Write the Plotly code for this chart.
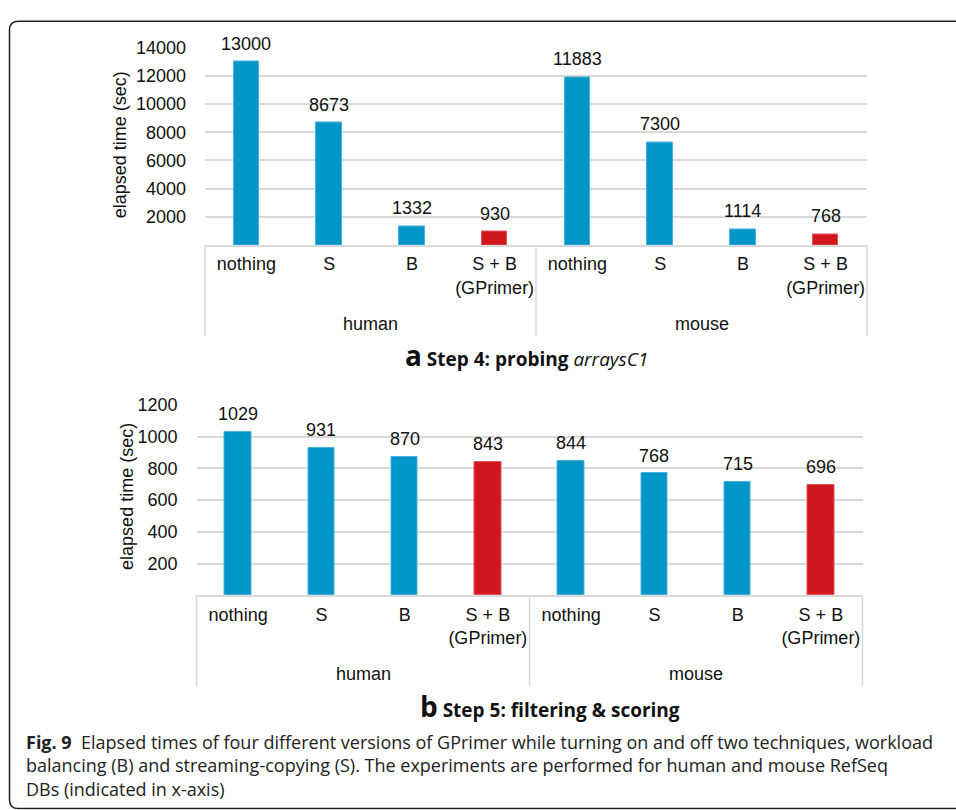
import plotly.graph_objects as go

W, H = 956, 810

# ---- data -------------------------------------------------------------
versions = ["nothing", "S", "B", "S + B<br>(GPrimer)"]
species = ["human", "mouse"]
step4_times = [13000, 8673, 1332, 930, 11883, 7300, 1114, 768]
step5_times = [1029, 931, 870, 843, 844, 768, 715, 696]
step4_ticks = [2000, 4000, 6000, 8000, 10000, 12000, 14000]
step5_ticks = [200, 400, 600, 800, 1000, 1200]

# ---- style ------------------------------------------------------------
BLUE = "#0096C8"
RED = "#D2161E"
version_colors = [BLUE, BLUE, BLUE, RED]
version_edges = ["#45B2DC", "#45B2DC", "#45B2DC", "#E0545A"]
GRID = "#D9D9D9"
CHART_FONT = "Liberation Sans, Arial, sans-serif"
TEXT_FONT = "Open Sans, Noto Sans, sans-serif"


def px(x):
    return x / W


def py(y):
    return 1 - y / H


panels = [
    dict(values=step4_times, ticks=step4_ticks, top=14000, xa="x", ya="y",
         xdom=[px(205), px(867)], ydom=[py(238), py(38)], bw=0.31,
         title_pos=(120, 137)),
    dict(values=step5_times, ticks=step5_ticks, top=1200, xa="x2", ya="y2",
         xdom=[px(196.5), px(862.5)], ydom=[py(592.5), py(400)], bw=0.32,
         title_pos=(127, 493)),
]

fig = go.Figure()
annotations = []
shapes = []
layout_axes = {}

n_ver = len(versions)
n_grp = len(species)
positions = list(range(n_ver * n_grp))
ticktext = versions * n_grp
colors = version_colors * n_grp
edges = version_edges * n_grp

for k, p in enumerate(panels):
    suffix = "" if k == 0 else str(k + 1)
    fig.add_trace(go.Bar(
        x=positions, y=p["values"], width=p["bw"],
        marker=dict(color=colors, line=dict(color=edges, width=1)),
        xaxis=p["xa"], yaxis=p["ya"], hoverinfo="skip", showlegend=False,
    ))
    layout_axes["xaxis" + suffix] = dict(
        domain=p["xdom"], anchor=p["ya"], range=[-0.5, len(positions) - 0.5],
        tickmode="array", tickvals=positions, ticktext=ticktext,
        showgrid=False, zeroline=False, showline=True, linecolor=GRID,
        linewidth=1.5, ticks="", ticklabelstandoff=2,
        tickfont=dict(family=CHART_FONT, size=18, color="#111"),
    )
    layout_axes["yaxis" + suffix] = dict(
        domain=p["ydom"], anchor=p["xa"], range=[0, p["top"]],
        tickmode="array", tickvals=p["ticks"], tickformat="d",
        showgrid=True, gridcolor=GRID, gridwidth=1.5, zeroline=False,
        showline=False, ticks="", ticklabelstandoff=18,
        tickfont=dict(family=CHART_FONT, size=18, color="#111"),
    )
    # value labels above each bar
    for xi, v in zip(positions, p["values"]):
        annotations.append(dict(
            x=xi, y=v, xref=p["xa"], yref=p["ya"], text=str(v),
            showarrow=False, yanchor="middle", yshift=18,
            font=dict(family=CHART_FONT, size=18, color="#111"),
        ))
    # group separators and group names under the axis
    for g in range(n_grp + 1):
        shapes.append(dict(
            type="line", xref=p["xa"] + " domain", yref=p["ya"] + " domain",
            x0=g / n_grp, x1=g / n_grp, ysizemode="pixel", yanchor=0,
            y0=0, y1=-91, line=dict(color=GRID, width=1.5),
        ))
    for g, name in enumerate(species):
        annotations.append(dict(
            x=g * n_ver + (n_ver - 1) / 2, y=0, xref=p["xa"],
            yref=p["ya"] + " domain", text=name, showarrow=False,
            yanchor="middle", yshift=-79,
            font=dict(family=CHART_FONT, size=18, color="#111"),
        ))
    # y-axis title
    tx, ty = p["title_pos"]
    annotations.append(dict(
        x=px(tx), y=py(ty), xref="paper", yref="paper",
        text="elapsed time (sec)", textangle=-90, showarrow=False,
        xanchor="center", yanchor="middle",
        font=dict(family=CHART_FONT, size=18, color="#111"),
    ))

# panel captions
annotations.append(dict(
    x=px(526), y=py(349), xref="paper", yref="paper", showarrow=False,
    xanchor="center", yanchor="middle",
    text="<span style='font-size:28px'><b>a</b></span> <b>Step 4: probing</b> <i>arraysC1</i>",
    font=dict(family=TEXT_FONT, size=19, color="#111"),
))
annotations.append(dict(
    x=px(550), y=py(705), xref="paper", yref="paper", showarrow=False,
    xanchor="center", yanchor="middle",
    text="<span style='font-size:28px'><b>b</b></span> <b>Step 5: filtering &amp; scoring</b>",
    font=dict(family=TEXT_FONT, size=19, color="#111"),
))

# figure caption
caption = ("<b>Fig. 9</b>  Elapsed times of four different versions of GPrimer while turning on and off two techniques, workload<br>"
           "balancing (B) and streaming-copying (S). The experiments are performed for human and mouse RefSeq<br>"
           "DBs (indicated in x-axis)")
annotations.append(dict(
    x=px(24), y=py(727), xref="paper", yref="paper", showarrow=False,
    xanchor="left", yanchor="top", align="left", text=caption,
    font=dict(family=TEXT_FONT, size=18, color="#222"),
))

# rounded frame around the figure
L, T, R, B, r = 9.5, 11.5, 970, 808.5, 9
frame = (f"M {px(R)},{py(T)} L {px(L + r)},{py(T)} Q {px(L)},{py(T)} {px(L)},{py(T + r)} "
         f"L {px(L)},{py(B - r)} Q {px(L)},{py(B)} {px(L + r)},{py(B)} L {px(R)},{py(B)}")
shapes.append(dict(type="path", xref="paper", yref="paper", path=frame,
                   line=dict(color="#222", width=1.5)))

fig.update_layout(
    width=W, height=H, margin=dict(l=0, r=0, t=0, b=0),
    paper_bgcolor="white", plot_bgcolor="white",
    bargap=0, annotations=annotations, shapes=shapes,
    **layout_axes,
)

fig.write_html("out.html")
